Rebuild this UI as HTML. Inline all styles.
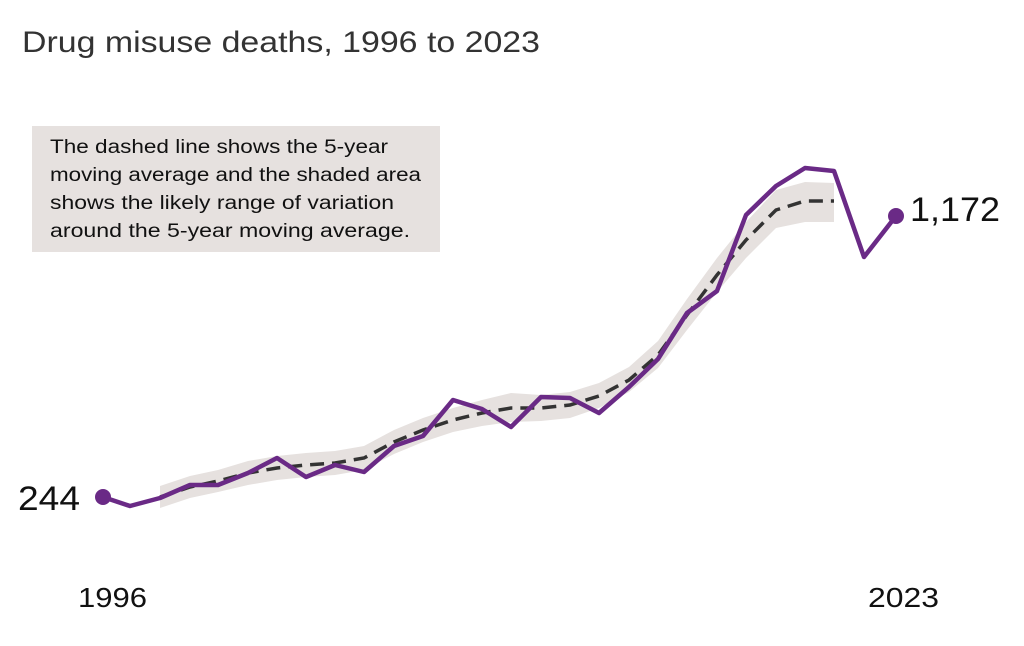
<!DOCTYPE html>
<html><head><meta charset="utf-8"><style>
body{margin:0;background:#fff;width:1024px;height:641px;overflow:hidden;font-family:"Liberation Sans",sans-serif}
</style></head><body>
<svg width="1024" height="641" viewBox="0 0 1024 641" xmlns="http://www.w3.org/2000/svg" font-family="Liberation Sans, sans-serif">
<text x="22" y="52" font-size="30" fill="#333" textLength="518" lengthAdjust="spacingAndGlyphs">Drug misuse deaths, 1996 to 2023</text>
<rect x="32" y="126" width="408" height="126" fill="#e6e1df"/>
<g font-size="19" fill="#111">
<text x="50" y="153" textLength="338" lengthAdjust="spacingAndGlyphs">The dashed line shows the 5-year</text>
<text x="50" y="181" textLength="371" lengthAdjust="spacingAndGlyphs">moving average and the shaded area</text>
<text x="50" y="209" textLength="344" lengthAdjust="spacingAndGlyphs">shows the likely range of variation</text>
<text x="50" y="237" textLength="360" lengthAdjust="spacingAndGlyphs">around the 5-year moving average.</text>
</g>
<polygon fill="#e6e1df" points="160,486 190,476 218,470 248,461 277,456 306,453 335,451 364,446 394,430 423,418 453,408 482,400 511,393 541,395 570,392 599,383 629,367 658,341 687,299 717,258 746,222 776,190 805,182 834,183 834,222 805,222 776,228 746,258 717,292 687,330 658,368 629,392 599,408 570,418 541,421 511,422 482,426 453,432 423,442 394,454 364,470 335,475 306,477 277,480 248,485 218,492 190,498 160,508"/>
<polyline fill="none" stroke="#333" stroke-width="3.5" stroke-dasharray="14,8" points="160,497 190,487 218,481 248,473 277,468 306,465 335,463 364,458 394,442 423,430 453,420 482,413 511,408 541,408 570,405 599,396 629,380 658,355 687,315 717,275 746,240 776,210 805,201 834,201"/>
<polyline fill="none" stroke="#6a2a86" stroke-width="4.5" stroke-linejoin="round" points="103,497 130,506 160,498 190,485 218,485 248,473 277,458 306,477 335,465 364,472 394,446 423,436 453,400 482,409 511,427 541,397 570,398 599,413 629,387 658,359 687,313 717,291 746,215 776,186 805,168 834,171 864,257 896,216"/>
<circle cx="103" cy="497" r="8" fill="#6a2a86"/>
<circle cx="896" cy="216" r="8" fill="#6a2a86"/>
<text x="18" y="510" font-size="34" fill="#111" textLength="62" lengthAdjust="spacingAndGlyphs">244</text>
<text x="910" y="221" font-size="34" fill="#111" textLength="90" lengthAdjust="spacingAndGlyphs">1,172</text>
<text x="78" y="607" font-size="28" fill="#111" textLength="69" lengthAdjust="spacingAndGlyphs">1996</text>
<text x="868" y="607" font-size="28" fill="#111" textLength="71" lengthAdjust="spacingAndGlyphs">2023</text>
</svg>
</body></html>
